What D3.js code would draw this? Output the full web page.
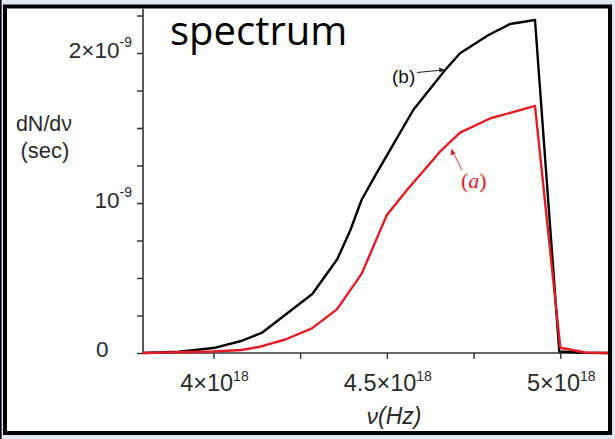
<!DOCTYPE html>
<html><head><meta charset="utf-8">
<script src="https://cdn.jsdelivr.net/npm/d3@7"></script>
<style>html,body{margin:0;padding:0;background:#dfe8f3;}svg{display:block;}</style>
</head><body>
<svg id="c" width="615" height="439"></svg>
<script>
// frequency in units of 1e18 Hz, dN/dnu in units of 1e-9 sec
const freqB = [3.797, 3.9, 4.0, 4.08, 4.14, 4.285, 4.357, 4.395, 4.427, 4.47, 4.509, 4.576, 4.668, 4.711, 4.793, 4.855, 4.927, 4.997, 5.07, 5.149];
const valB  = [0, 0.008, 0.033, 0.08, 0.135, 0.393, 0.625, 0.82, 1.02, 1.198, 1.353, 1.62, 1.887, 1.998, 2.12, 2.193, 2.22, 0.01, 0.002, 0];
const freqA = [3.797, 4.0, 4.08, 4.135, 4.207, 4.284, 4.356, 4.428, 4.471, 4.5, 4.558, 4.616, 4.653, 4.711, 4.799, 4.927, 5.0, 5.072, 5.149];
const valA  = [0, 0.01, 0.02, 0.042, 0.09, 0.164, 0.291, 0.531, 0.764, 0.92, 1.087, 1.242, 1.342, 1.469, 1.565, 1.647, 0.035, 0.003, 0];
const xMajor = [4, 4.5, 5];
const xMinor = [4.25, 4.75];
const xMajorLabels = [["4","18"],["4.5","18"],["5","18"]];
const yTicks = [0, 0.25, 0.5, 0.75, 1, 1.25, 1.5, 1.75, 2, 2.25];
const yLabels = [{v:0, t:"0"}, {v:1, t:"10", e:"-9"}, {v:2, t:"2×10", e:"-9"}];

const svg = d3.select("#c");
const x = d3.scaleLinear().domain([3.797, 5.149]).range([143, 612]);
const y = d3.scaleLinear().domain([0, 2.28]).range([353, 11]);

// frame
svg.append("rect").attr("x",0).attr("y",0).attr("width",615).attr("height",439).attr("fill","#dfe8f3");
svg.append("rect").attr("x",5).attr("y",6.5).attr("width",605).attr("height",426.5).attr("fill","#fff").attr("stroke","#000").attr("stroke-width",4);
svg.append("line").attr("x1",0.8).attr("x2",0.8).attr("y1",0).attr("y2",439).attr("stroke","#000").attr("stroke-width",1.6);

const g = svg.append("g");
const defs = svg.append("defs");
defs.append("clipPath").attr("id","clp").append("rect").attr("x",7).attr("y",8.5).attr("width",601).attr("height",422.5);
g.attr("clip-path","url(#clp)");

// axes
const axCol = "#333";
const yAxis = d3.axisLeft(y).tickValues(yTicks).tickSize(6).tickFormat("");
const yg = g.append("g").attr("transform","translate(143,0)").call(yAxis);
yg.select(".domain").attr("d","M0,353V8").attr("stroke",axCol).attr("stroke-width",1.6);
yg.selectAll(".tick line").attr("stroke",axCol).attr("stroke-width",1.4);

const xAxis = d3.axisBottom(x).tickValues(xMajor.concat(xMinor)).tickSize(6).tickFormat("");
const xg = g.append("g").attr("transform","translate(0,353)").call(xAxis);
xg.select(".domain").attr("d","M143,0H612").attr("stroke",axCol).attr("stroke-width",1.6);
xg.selectAll(".tick line").attr("stroke",axCol).attr("stroke-width",1.4);

// curves
const line = d3.line().x(d=>x(d[0])).y(d=>y(d[1]));
g.append("path").datum(d3.zip(freqB, valB)).attr("d", line).attr("fill","none").attr("stroke","#000").attr("stroke-width",2.4).attr("stroke-linejoin","round");
g.append("path").datum(d3.zip(freqA, valA)).attr("d", line).attr("fill","none").attr("stroke","#e31b23").attr("stroke-width",2.4).attr("stroke-linejoin","round");

// y tick labels
const labF = "Liberation Sans, Arial, sans-serif";
const txtCol = "#2a2a2a";
yLabels.forEach(l => {
  const t = svg.append("text").attr("x",132).attr("y",y(l.v)+4.5).attr("text-anchor","end")
    .attr("font-family",labF).attr("font-size",22.5).attr("fill",txtCol);
  if (l.v===0) t.attr("x",108.5).attr("y",y(l.v)+3.5);
  t.append("tspan").text(l.t);
  if (l.e) t.append("tspan").attr("font-size",14).attr("dy",-11).text(l.e);
});

// x tick labels
xMajor.forEach((v,i) => {
  const t = svg.append("text").attr("x",x(v)+1).attr("y",391).attr("text-anchor","middle")
    .attr("font-family",labF).attr("font-size",23.5).attr("fill",txtCol);
  t.append("tspan").text(xMajorLabels[i][0]+"×10");
  t.append("tspan").attr("font-size",14).attr("dy",-10.5).text(xMajorLabels[i][1]);
});

// axis titles
svg.append("text").attr("x",44).attr("y",131).attr("text-anchor","middle").attr("font-family",labF).attr("font-size",21.5).attr("fill",txtCol).text("dN/dν");
svg.append("text").attr("x",45).attr("y",158).attr("text-anchor","middle").attr("font-family",labF).attr("font-size",22).attr("fill",txtCol).text("(sec)");
svg.append("text").attr("x",394).attr("y",424).attr("text-anchor","middle").attr("font-family",labF).attr("font-size",23).attr("fill",txtCol).attr("font-style","italic").text("ν(Hz)");

// title
svg.append("text").attr("x",170).attr("y",45).attr("font-family","Open Sans, sans-serif").attr("font-size",40).attr("fill","#000").text("spectrum");

// annotations
svg.append("text").attr("x",392).attr("y",83).attr("font-family",labF).attr("font-size",19).attr("fill","#111").text("(b)");
svg.append("line").attr("x1",417).attr("y1",72.5).attr("x2",443).attr("y2",70).attr("stroke","#222").attr("stroke-width",1);
svg.append("path").attr("d","M445,69.8 L439,67.6 L439.5,72.4 Z").attr("fill","#222");

svg.append("text").attr("x",461).attr("y",188).attr("font-family","Liberation Serif, Times New Roman, serif").attr("font-size",22).attr("fill","#e31b23")
  .html('(<tspan font-style="italic">a</tspan>)');
svg.append("line").attr("x1",462).attr("y1",170).attr("x2",453).attr("y2",152).attr("stroke","#e31b23").attr("stroke-width",0.9);
svg.append("path").attr("d","M451.5,148.5 L450.6,155.5 L455.4,153.5 Z").attr("fill","#e31b23");
</script>
</body></html>
